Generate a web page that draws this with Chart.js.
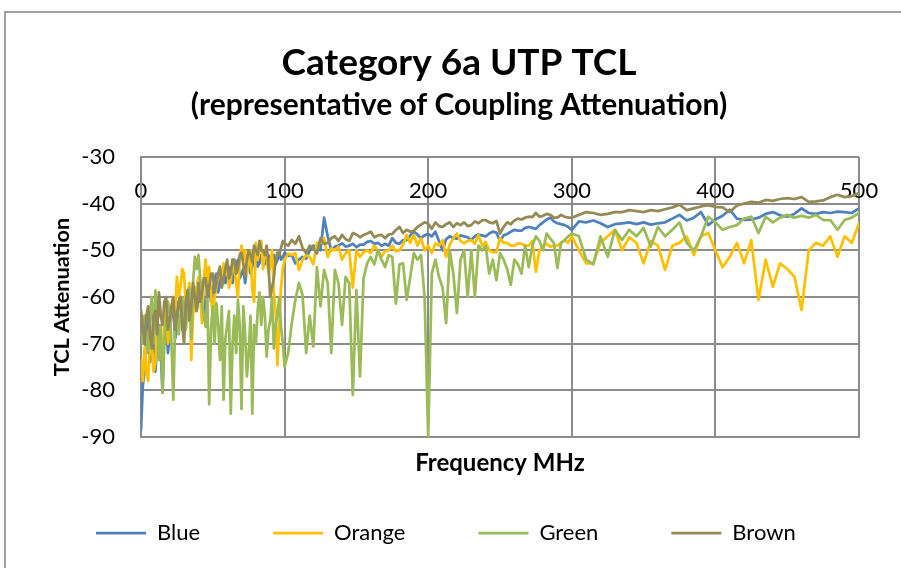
<!DOCTYPE html>
<html><head><meta charset="utf-8">
<script src="https://cdn.jsdelivr.net/npm/chart.js@4.4.1/dist/chart.umd.min.js"></script>
<style>
html,body{margin:0;padding:0;background:#fff;}
#wrap{position:relative;width:901px;height:568px;overflow:hidden;}
#frame{position:absolute;left:4px;top:11px;width:1000px;height:1000px;border:2px solid #a0a0a0;box-sizing:border-box;}
canvas{position:absolute;left:0;top:0;}
</style></head><body>
<div id="wrap"><div id="frame"></div><canvas id="c" width="901" height="568"></canvas></div>
<script>
const titleText = 'Category 6a UTP TCL';
const subtitleText = '(representative of Coupling Attenuation)';
const xTitle = 'Frequency MHz';
const yTitle = 'TCL Attenuation';
const seriesNames = ['Blue', 'Orange', 'Green', 'Brown'];
const xTicks = [0, 100, 200, 300, 400, 500];
const yTicks = [-90, -80, -70, -60, -50, -40, -30];

const freq = [
0,1.25,2.5,3.75,5,6.25,7.5,8.75,10,11.25,
12.5,13.75,15,16.25,17.5,18.75,20,21.25,22.5,23.75,
25,26.25,27.5,28.75,30,31.25,32.5,33.75,35,36.25,
37.5,38.75,40,41.25,42.5,43.75,45,46.25,47.5,48.75,
50,51.25,52.5,53.75,55,56.25,57.5,58.75,60,61.25,
62.5,63.75,65,66.25,67.5,68.75,70,71.25,72.5,73.75,
75,76.25,77.5,78.75,80,81.25,82.5,83.75,85,86.25,
87.5,88.75,90,91.25,92.5,93.75,95,96.25,97.5,98.75,
100,102.5,105,107.5,110,112.5,115,117.5,120,122.5,
125,127.5,130,132.5,135,137.5,140,142.5,145,147.5,
150,152.5,155,157.5,160,162.5,165,167.5,170,172.5,
175,177.5,180,182.5,185,187.5,190,192.5,195,197.5,
200,202.5,205,207.5,210,212.5,215,217.5,220,222.5,
225,227.5,230,232.5,235,237.5,240,242.5,245,247.5,
250,252.5,255,257.5,260,262.5,265,267.5,270,272.5,
275,277.5,280,282.5,285,287.5,290,292.5,295,297.5,
300,
305,310,315,320,325,330,335,340,345,350,
355,360,365,370,375,380,385,390,395,400,
405,410,415,420,425,430,435,440,445,450,
455,460,465,470,475,480,485,490,495,500
];

const blue = [
-88.5,-79,-76,-64,-68,-74,-72,-65,-76,-70,
-66,-72,-80.5,-67,-64,-72,-68,-63,-62,-69,
-66,-61,-60,-67,-64,-60,-59,-65,-62,-59,
-58,-63,-60,-58,-57,-61,-64,-58,-57,-61,
-59,-56,-55,-59,-57,-55,-54,-57,-56,-54,
-53.5,-57,-55,-53,-52,-56,-55,-54,-57,-54,
-52,-55,-53.5,-52,-51,-53.5,-52.8,-51,-50.7,-53,
-52,-51,-53.5,-52,-51,-53,-52,-50.5,-52,-51.5,
-50.5,-51.2,-51,-52.8,-52,-51.4,-51.8,-50,-49,-49.6,
-50,-43,-47,-50,-49.2,-49,-48.5,-49.2,-49,-48.6,
-49.3,-48.8,-48.8,-48.2,-48,-48.6,-48.4,-49,-48.6,-49,
-47.4,-48.4,-48.6,-47.8,-47.8,-46.8,-46,-46.6,-47.4,-46.8,
-46.5,-47,-46,-48,-50,-47.6,-47,-47.4,-47.5,-46.8,
-47,-47.2,-47.8,-47,-46.6,-46.8,-47,-46.4,-46,-46.2,
-48,-46.8,-46.5,-46,-45.6,-45.8,-45.8,-45.2,-45,-45.2,
-45.4,-44.6,-44,-43.4,-43,-43.8,-44.2,-44.4,-44.6,-45,
-45.6,
-43.8,-44,-43.6,-44.2,-45,-44.4,-44.2,-44,-44.4,-44,
-44.5,-44.2,-44,-43.2,-42.4,-43.6,-43,-41.8,-44.6,-43.4,
-42.6,-41.3,-43.2,-43.5,-43.4,-43,-42.2,-41.8,-42.5,-42.8,
-42.2,-41,-42,-42.2,-41.8,-42,-41.7,-41.8,-42,-41
];

const orange = [
-73.5,-78,-70.7,-76,-78,-69,-70.6,-76,-74,-66,
-68,-73,-72,-66,-63,-70,-67,-62,-60,-64,
-55.7,-60,-57.8,-54,-55,-62,-60,-57,-73.5,-64,
-61,-58,-55.7,-60,-65.6,-56,-52,-57,-53.6,-59,
-65,-60,-58,-55,-54,-57,-52.8,-55,-53,-58,
-56.4,-52,-53.6,-57,-60,-52,-49,-52,-50,-55,
-52.8,-50,-58.5,-61,-48.4,-52,-49.5,-48,-54,-50,
-51,-55,-53,-50,-59,-63,-74.6,-66,-58,-54,
-52,-50.7,-51,-50.6,-54.2,-52,-51,-51.4,-53,-48.4,
-48.4,-47.4,-51.4,-49.6,-50,-49.2,-52,-50.6,-50,-58,
-50,-51.4,-50.4,-50,-50.6,-49,-50,-51.4,-50.2,-50,
-49,-50.2,-50,-48.8,-46.7,-48.4,-46.7,-49,-47.4,-50,
-49,-50.6,-48.5,-49,-47.8,-51.4,-48.8,-47.4,-46.4,-48,
-48.5,-48,-47.8,-48.6,-46.7,-49,-48.2,-50,-50.4,-50.4,
-47.4,-48.4,-48.4,-49,-49,-48.5,-48.6,-49,-49,-48,
-54.6,-50,-49,-48.6,-49.2,-49,-49,-48.4,-47.8,-48.4,
-47,
-50,-52.8,-52.8,-48.4,-47,-45.6,-50,-47.2,-48.4,-52.8,
-48,-49,-54.2,-49,-48.4,-47,-51,-47,-46.3,-50,
-53.6,-51.4,-48.4,-52.8,-47.8,-60.6,-52,-57.8,-52.8,-54,
-55.6,-62.8,-50,-48.4,-49,-47,-51.4,-47,-48.4,-44.2
];

const green = [
-68,-70,-64,-68,-72,-64,-60,-70,-58.6,-62,
-73.5,-66,-80.5,-70,-65,-61,-63,-70,-82,-66,
-63,-68,-64,-60,-63.4,-67,-62,-58,-69,-57,
-51.4,-54,-51,-56,-61.3,-64,-66.4,-60,-83,-67,
-62,-70,-61.3,-66,-73.5,-62,-82,-69,-66,-63,
-85,-70,-64,-72,-60.6,-66,-84,-62,-68,-77,
-72,-64,-85,-66,-70,-63,-59,-66,-60,-64,
-72.8,-67,-65,-60,-71,-66,-64,-60,-66.4,-70,
-75,-72,-65.6,-60.6,-57,-59.6,-72,-64,-70.6,-53.6,
-62,-54.2,-57,-72,-54.2,-57,-66,-55.7,-57,-81,
-58.5,-77,-56,-52.8,-51.4,-53,-50,-52,-53.6,-51,
-51.4,-61.4,-53,-52.8,-60.6,-55.7,-50.6,-52,-51,-60,
-90,-55,-52,-55.7,-58,-65.6,-50,-55,-63.4,-52,
-50,-60,-50,-60,-49,-50,-49,-55,-52,-56.4,
-50.6,-52,-54,-57.4,-52,-53,-55,-49,-53.6,-49,
-47,-48,-50,-46.4,-47.5,-48.4,-53.8,-48.4,-47.8,-47,
-46.4,
-47,-52,-53,-47,-51.4,-45.6,-47.8,-45.6,-47,-45.2,
-49.2,-45,-47,-45.6,-44,-48.4,-50,-47,-42.8,-44,
-45.6,-45,-44.6,-43.2,-42.8,-46.3,-42.8,-44,-43,-42.4,
-43,-42.6,-43,-42.4,-43.5,-43.5,-45.6,-43.5,-43,-42
];

const brown = [
-63,-66,-70,-64,-62,-68,-71,-64,-63,-68,
-59,-64,-66,-61,-60,-67,-65,-62,-60,-67,
-64,-61,-60,-66,-70,-61,-58.5,-65,-62,-57,
-60,-63,-57,-61,-59,-56,-56,-60,-58,-55,
-55,-59,-57,-55,-53.5,-58,-56,-54,-52,-56,
-55,-52,-52,-55,-54,-51,-50.5,-53,-55.5,-52,
-50,-51,-52.5,-49,-50,-51,-48,-50,-50,-51,
-49,-53,-60,-58,-56,-52,-50.5,-51,-49.5,-48,
-48.5,-49,-47.8,-48.6,-47,-49.5,-50.6,-49,-49.5,-50.7,
-47.4,-48.6,-48.4,-47.4,-47,-48,-46.7,-47.6,-48,-46.3,
-46.6,-47.2,-46.7,-46.4,-46,-47.2,-46.8,-46.7,-47.4,-46.6,
-46.5,-45.6,-45,-46.3,-45.6,-46,-45.8,-45,-44.5,-44,
-44.3,-45.4,-44,-44.8,-45,-44.4,-44,-45,-44.2,-44.6,
-44,-44.8,-44.6,-43.8,-44.2,-43.6,-43.5,-44,-44.2,-43.7,
-46.4,-45,-44,-44.4,-43.6,-43.2,-43.4,-43,-42.8,-42.9,
-42,-42.8,-42.6,-42.2,-42.4,-43,-43,-42.4,-42.8,-43,
-43,
-42.4,-41.8,-42,-42.4,-42.2,-41.8,-41.8,-41.4,-41.6,-41.8,
-41.4,-41.6,-41.2,-40.8,-40.2,-41.4,-41,-40.6,-40.3,-40.7,
-40.8,-41.8,-40.4,-40,-39.6,-39.8,-39.2,-39.4,-39,-38.8,
-39,-38.6,-39.6,-39.5,-39.3,-38.6,-38.1,-38.6,-38.4,-37.7
];

const seriesValues = [blue, orange, green, brown];
const seriesColors = ['#4F81BD', '#FFC000', '#9BBB59', '#948A54'];
const drawOrder = [4, 3, 2, 1];
const gridColor = '#8c8c8c';
const legendGap = 73;

Chart.defaults.font.family = 'Lato, "Open Sans", sans-serif';
Chart.defaults.color = '#000';

const datasets = seriesNames.map((name, k) => ({
  label: name,
  data: freq.map((f, i) => ({x: f, y: seriesValues[k][i]})),
  borderColor: seriesColors[k],
  backgroundColor: seriesColors[k],
  borderWidth: 2.75,
  pointRadius: 0,
  pointHoverRadius: 0,
  pointStyle: 'line',
  tension: 0,
  fill: false,
  borderJoinStyle: 'round',
  borderCapStyle: 'round',
  order: drawOrder[k]
}));

new Chart(document.getElementById('c'), {
  type: 'line',
  data: {datasets},
  options: {
    responsive: false,
    animation: false,
    events: [],
    layout: {padding: {top: 0, right: 6, bottom: 14, left: 23}},
    plugins: {
      title: {
        display: true, text: titleText, color: '#000',
        font: {size: 37, weight: 'bold'},
        padding: {top: 41, bottom: 0}
      },
      subtitle: {
        display: true, text: subtitleText, color: '#000',
        font: {size: 30, weight: 'bold'},
        padding: {top: 1.6, bottom: 34}
      },
      legend: {
        position: 'bottom',
        align: 'start',
        labels: {
          usePointStyle: true,
          pointStyle: 'line',
          pointStyleWidth: 50,
          padding: legendGap,
          color: '#000',
          font: {size: 22},
          sort: (a, b) => a.datasetIndex - b.datasetIndex
        }
      },
      tooltip: {enabled: false}
    },
    scales: {
      x: {
        type: 'linear',
        position: 'bottom',
        min: xTicks[0], max: xTicks[xTicks.length - 1],
        ticks: {display: false, stepSize: xTicks[1] - xTicks[0]},
        grid: {color: gridColor, lineWidth: 2, drawTicks: false},
        border: {display: true, color: gridColor, width: 2},
        title: {
          display: true, text: xTitle, color: '#000',
          font: {size: 24, weight: 'bold'},
          padding: {top: 0, bottom: -28.4}
        },
        afterFit: s => { s.height = 85 - legendGap; }
      },
      x2: {
        type: 'linear',
        axis: 'x',
        position: {y: yTicks[yTicks.length - 1]},
        min: xTicks[0], max: xTicks[xTicks.length - 1],
        ticks: {stepSize: xTicks[1] - xTicks[0], font: {size: 22}, color: '#000', padding: 21, maxRotation: 0},
        grid: {display: false, drawTicks: false},
        border: {display: false}
      },
      y: {
        type: 'linear',
        position: 'left',
        min: yTicks[0], max: yTicks[yTicks.length - 1],
        ticks: {stepSize: yTicks[1] - yTicks[0], font: {size: 22}, color: '#000', padding: 26},
        grid: {color: gridColor, lineWidth: 2, drawTicks: false},
        border: {display: true, color: gridColor, width: 2},
        title: {
          display: true, text: yTitle, color: '#000',
          font: {size: 21.7, weight: 'bold'},
          padding: {top: 26, bottom: 0}
        },
        afterFit: s => { s.width = 118; }
      },
      yRight: {
        type: 'linear',
        axis: 'y',
        position: 'right',
        min: yTicks[0], max: yTicks[yTicks.length - 1],
        ticks: {display: false},
        grid: {display: false, drawTicks: false},
        border: {display: false},
        afterFit: s => { s.width = 36; }
      }
    }
  }
});
</script>
</body></html>
